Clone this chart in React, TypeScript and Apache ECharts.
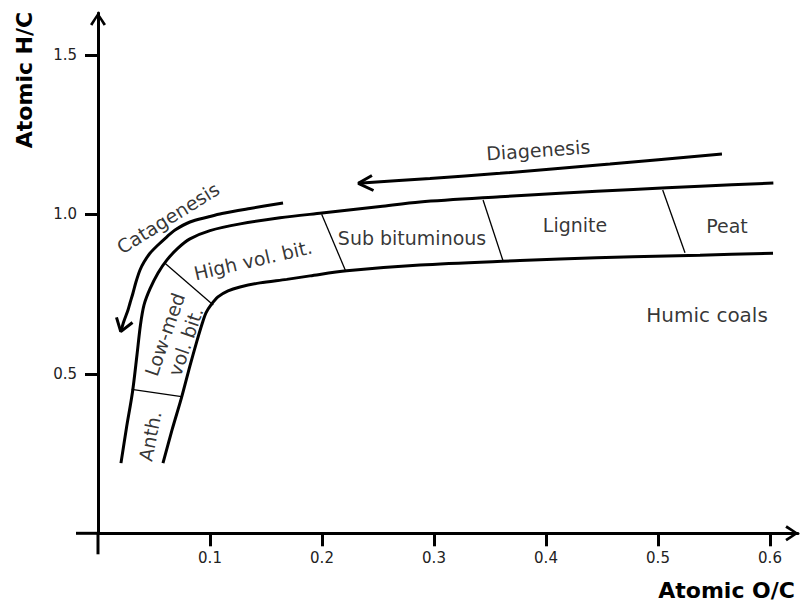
import React, { useEffect, useRef } from 'react';
import * as echarts from 'echarts';

const FONT = '"DejaVu Sans", Verdana, sans-serif';

// axis ticks
const xTickValues = [0.1, 0.2, 0.3, 0.4, 0.5, 0.6];
const yTickValues = [0.5, 1.0, 1.5];

// band boundaries (atomic O/C, atomic H/C)
const upperBoundary = [
  [0.0205, 0.220], [0.0254, 0.330], [0.0308, 0.443], [0.0348, 0.559], [0.0379, 0.653],
  [0.0411, 0.716], [0.0464, 0.766], [0.0536, 0.816], [0.0616, 0.857], [0.0714, 0.894],
  [0.0821, 0.923], [0.100, 0.949], [0.127, 0.970], [0.1625, 0.989], [0.200, 1.004],
  [0.252, 1.0245], [0.2875, 1.0385], [0.359, 1.055], [0.4125, 1.066], [0.478, 1.078],
  [0.5375, 1.088], [0.603, 1.098],
];
const lowerBoundary = [
  [0.058, 0.220], [0.0661, 0.324], [0.0747, 0.427], [0.0821, 0.525], [0.0881, 0.600],
  [0.0929, 0.656], [0.0964, 0.691], [0.1009, 0.716], [0.1071, 0.741], [0.1161, 0.760],
  [0.1268, 0.772], [0.1446, 0.785], [0.1685, 0.796], [0.1893, 0.807], [0.2221, 0.823],
  [0.2875, 0.841], [0.3768, 0.855], [0.4125, 0.860], [0.4777, 0.867], [0.5375, 0.872],
  [0.6027, 0.878],
];

// rank dividers across the band
const dividers = [
  [[0.0301, 0.4514], [0.0746, 0.4282]],
  [[0.0598, 0.8464], [0.1029, 0.7157]],
  [[0.1997, 1.000], [0.2214, 0.8201]],
  [[0.3438, 1.0448], [0.3616, 0.8546]],
  [[0.5042, 1.0762], [0.5241, 0.8796]],
];

// process arrows
const catagenesisPath = [
  [0.1652, 1.0354], [0.1357, 1.0182], [0.1107, 1.0025], [0.0982, 0.9915], [0.0821, 0.9759],
  [0.0688, 0.9508], [0.0613, 0.9288], [0.0536, 0.9038], [0.0464, 0.8777], [0.0411, 0.8505],
  [0.0375, 0.8254], [0.0339, 0.7878], [0.03125, 0.7533], [0.0286, 0.7219], [0.0268, 0.700],
  [0.0232, 0.6655], [0.0203, 0.632],
];
const catagenesisHead = [[0.0165, 0.6771], [0.0203, 0.632], [0.0308, 0.6608]];
const diagenesisPath = [
  [0.2324, 1.0972], [0.2964, 1.1122], [0.3589, 1.1285], [0.4571, 1.1577], [0.5571, 1.189],
];
const diagenesisHead = [[0.2446, 1.1216], [0.2324, 1.0972], [0.246, 1.0746]];

// text labels
const labelTexts = [
  'Diagenesis', 'Catagenesis', 'High vol. bit.', 'Sub bituminous', 'Lignite', 'Peat',
  'Humic coals', 'Low-med\nvol. bit.', 'Anth.',
];
const labelAnchors = [
  [0.393, 1.2016], [0.0625, 0.9884], [0.1384, 0.8567], [0.2804, 0.9257], [0.4259, 0.9665],
  [0.5616, 0.9633], [0.5438, 0.6843], [0.0688, 0.6122], [0.0464, 0.305],
];
const labelAngles = [4, 32, 13, 0, 0, 0, 0, 71, 79];
const labelSizes = [19, 19, 19, 19, 19, 19, 20, 19, 19];

const ARROW = 'path://M8.2 0 L16.4 12.2 L14 13.8 L8.2 4.4 L2.4 13.8 L0 12.2 Z';

// plot frame (origin of the data sits at the grid's bottom-left corner)
const GRID = { left: 98, right: 2, top: 13, bottom: 67.7 };
const X_MAX = 0.625;
const Y_MAX = 1.631;

function lineSeries(data: number[][], width: number, smooth: number | boolean) {
  return {
    type: 'line',
    data,
    symbol: 'none',
    showSymbol: false,
    smooth,
    silent: true,
    lineStyle: { color: '#000', width },
    z: 3,
  };
}

export default function App() {
  const ref = useRef<HTMLDivElement>(null);
  useEffect(() => {
    if (!ref.current) return;
    const chart = echarts.init(ref.current, undefined, { renderer: 'svg' });
    const W = 800;
    const H = 601;
    const originX = GRID.left;
    const originY = H - GRID.bottom;
    const axisLineCommon = {
      onZero: false,
      symbol: ['none', ARROW],
      symbolSize: [16, 14],
      symbolOffset: [0, -6],
      lineStyle: { color: '#000', width: 3 },
    };
    const option: any = {
      animation: false,
      backgroundColor: '#fff',
      grid: { ...GRID, containLabel: false },
      xAxis: {
        type: 'value',
        min: 0,
        max: X_MAX,
        splitLine: { show: false },
        axisLine: axisLineCommon,
        axisTick: { customValues: xTickValues, length: 13, lineStyle: { color: '#000', width: 3 } },
        axisLabel: {
          customValues: xTickValues,
          formatter: (v: number) => v.toFixed(1),
          margin: 17,
          fontSize: 15,
          color: '#222',
          fontFamily: FONT,
        },
      },
      yAxis: {
        type: 'value',
        min: 0,
        max: Y_MAX,
        splitLine: { show: false },
        axisLine: axisLineCommon,
        axisTick: { customValues: yTickValues, length: 13, lineStyle: { color: '#000', width: 3 } },
        axisLabel: {
          customValues: yTickValues,
          formatter: (v: number) => v.toFixed(1),
          margin: 21,
          fontSize: 15,
          color: '#222',
          fontFamily: FONT,
        },
      },
      graphic: [
        // axis stubs crossing past the origin
        {
          type: 'line',
          shape: { x1: originX - 22, y1: originY, x2: originX, y2: originY },
          style: { stroke: '#000', lineWidth: 3 },
        },
        {
          type: 'line',
          shape: { x1: originX, y1: originY, x2: originX, y2: originY + 21 },
          style: { stroke: '#000', lineWidth: 3 },
        },
        {
          type: 'text',
          x: 795,
          y: 590,
          style: {
            text: 'Atomic O/C',
            fontSize: 22,
            fontWeight: 'bold',
            fontFamily: FONT,
            fill: '#000',
            align: 'right',
            textAlign: 'right',
            verticalAlign: 'middle',
            textVerticalAlign: 'middle',
          },
        },
        {
          type: 'text',
          x: 24,
          y: 80,
          rotation: Math.PI / 2,
          style: {
            text: 'Atomic H/C',
            fontSize: 22,
            fontWeight: 'bold',
            fontFamily: FONT,
            fill: '#000',
            align: 'center',
            textAlign: 'center',
            verticalAlign: 'middle',
            textVerticalAlign: 'middle',
          },
        },
      ],
      series: [
        lineSeries(upperBoundary, 3, 0.3),
        lineSeries(lowerBoundary, 3, 0.3),
        lineSeries(catagenesisPath, 3, 0.3),
        lineSeries(catagenesisHead, 3, false),
        lineSeries(diagenesisPath, 3, 0.3),
        lineSeries(diagenesisHead, 3, false),
        ...dividers.map((d) => lineSeries(d, 1.3, false)),
        {
          type: 'scatter',
          symbolSize: 0,
          silent: true,
          z: 4,
          data: labelTexts.map((t, i) => ({
            value: labelAnchors[i],
            label: {
              show: true,
              position: 'inside',
              formatter: t,
              rotate: labelAngles[i],
              fontSize: labelSizes[i],
              lineHeight: 22,
              color: '#000',
              fontFamily: FONT,
            },
          })),
        },
      ],
    };
    chart.setOption(option);
    return () => chart.dispose();
  }, []);
  return (
    <div
      ref={ref}
      style={{ position: 'absolute', left: 0, top: 0, width: 800, height: 601, background: '#fff' }}
    />
  );
}
